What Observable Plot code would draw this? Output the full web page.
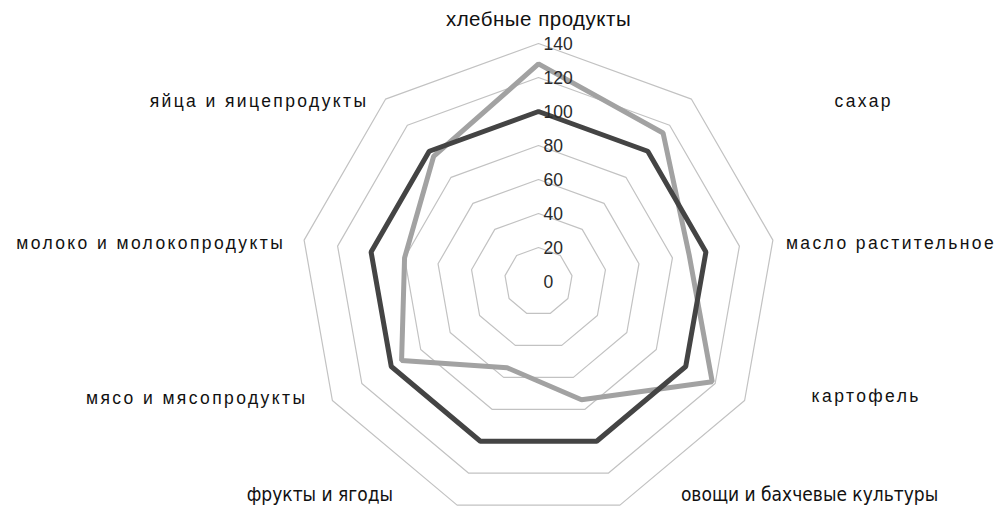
<!DOCTYPE html>
<html>
<head>
<meta charset="utf-8">
<script src="https://cdn.jsdelivr.net/npm/d3@7"></script>
<script src="https://cdn.jsdelivr.net/npm/@observablehq/plot@0.6"></script>
<style>
  html, body { margin: 0; padding: 0; background: #fff; }
  #chart svg { display: block; }
</style>
</head>
<body>
<div id="chart"></div>
<script>
// ---- data ----
const categories = [
  "хлебные продукты",
  "сахар",
  "масло растительное",
  "картофель",
  "овощи и бахчевые культуры",
  "фрукты и ягоды",
  "мясо и мясопродукты",
  "молоко и молокопродукты",
  "яйца и яицепродукты"
];
const normValues   = [100, 100, 100, 100, 100, 100, 100, 100, 100];
const actualValues = [128, 114, 90, 118, 74, 54, 93, 80, 96];
const ringValues = [20, 40, 60, 80, 100, 120, 140];
const tickLabels = [0, 20, 40, 60, 80, 100, 120, 140];

// ---- layout / style (not data) ----
const W = 998, H = 506;
const CX = 538, CY = 281, PX_PER_UNIT = 1.7;
const labelStyle = [
  {dx: 0,   dy: -24, anchor: "middle", font: "top"},
  {dx: 143, dy: 2,   anchor: "start",  font: "wide"},
  {dx: 13,  dy: 3,   anchor: "start",  font: "wide"},
  {dx: 67,  dy: -4,  anchor: "start",  font: "wide"},
  {dx: 61,  dy: -10, anchor: "start",  font: "narrow"},
  {dx: -64, dy: -10, anchor: "end",    font: "narrow"},
  {dx: -25, dy: -2,  anchor: "end",    font: "wide"},
  {dx: -19, dy: 3,   anchor: "end",    font: "wide"},
  {dx: -17, dy: 2,   anchor: "end",    font: "wide"}
];
const fontSpec = {
  top:    {size: 20.5, family: "'Liberation Sans', Arial, sans-serif", spacing: "0.5px"},
  wide:   {size: 17.5, family: "'Liberation Sans', Arial, sans-serif", spacing: "2.4px"},
  narrow: {size: 19,   family: "'Liberation Sans Narrow', 'DejaVu Sans Condensed', sans-serif", spacing: "0px"}
};

const n = categories.length;
const ang = i => (i * 2 * Math.PI) / n;
const px = (v, i) => v * Math.sin(ang(i));
const py = (v, i) => v * Math.cos(ang(i));

const rings = ringValues.flatMap(r => categories.map((c, i) => ({ring: r, i})));
const norm = normValues.map((v, i) => ({v, i}));
const actual = actualValues.map((v, i) => ({v, i}));
const cats = categories.map((c, i) => ({c, i, ...labelStyle[i]}));
const ticks = tickLabels.map(t => ({t}));
const outer = ringValues[ringValues.length - 1];

const labelMarks = cats.map(d => {
  const f = fontSpec[d.font];
  return Plot.text([d], {
    x: e => px(outer, e.i), y: e => py(outer, e.i),
    text: e => e.c, fill: "#111",
    textAnchor: d.anchor, dx: d.dx, dy: d.dy,
    fontSize: f.size, fontFamily: f.family
  });
});

const chart = Plot.plot({
  width: W,
  height: H,
  margin: 0,
  x: {domain: [-CX / PX_PER_UNIT, (W - CX) / PX_PER_UNIT], axis: null},
  y: {domain: [-(H - CY) / PX_PER_UNIT, CY / PX_PER_UNIT], axis: null},
  style: {background: "#fff", fontFamily: "'Liberation Sans', Arial, sans-serif"},
  marks: [
    Plot.line(rings, {
      x: d => px(d.ring, d.i), y: d => py(d.ring, d.i), z: "ring",
      curve: "linear-closed", stroke: "#c2c2c2", strokeWidth: 1.2
    }),
    Plot.line(actual, {
      x: d => px(d.v, d.i), y: d => py(d.v, d.i),
      curve: "linear-closed", stroke: "#a2a2a2", strokeWidth: 5, strokeLinejoin: "miter"
    }),
    Plot.line(norm, {
      x: d => px(d.v, d.i), y: d => py(d.v, d.i),
      curve: "linear-closed", stroke: "#444", strokeWidth: 5, strokeLinejoin: "miter"
    }),
    Plot.text(ticks, {
      x: 0, y: d => d.t, text: d => String(d.t),
      textAnchor: "start", dx: 5, dy: 1, fontSize: 17.5, fill: "#2a2a2a"
    }),
    ...labelMarks
  ]
});
d3.select(chart).selectAll("text").each(function () {
  const i = categories.indexOf(this.textContent);
  if (i >= 0) this.setAttribute("letter-spacing", fontSpec[labelStyle[i].font].spacing);
});
document.getElementById("chart").appendChild(chart);
</script>
</body>
</html>
